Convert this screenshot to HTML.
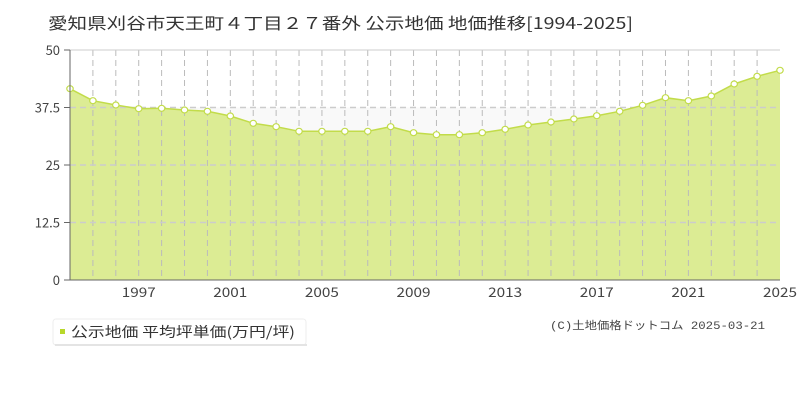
<!DOCTYPE html>
<html><head><meta charset="utf-8"><style>
body{margin:0;width:800px;height:400px;background:#fff;overflow:hidden;font-family:"Liberation Sans","Noto Sans CJK JP",sans-serif}
</style></head><body>
<svg width="800" height="400" xmlns="http://www.w3.org/2000/svg" font-family="Liberation Sans, Noto Sans CJK JP, sans-serif">
<text x="48" y="29" font-size="16" fill="#333" font-family="Noto Sans CJK JP, sans-serif" textLength="585" lengthAdjust="spacingAndGlyphs">愛知県刈谷市天王町４丁目２７番外 公示地価 地価推移[1994-2025]</text>
<rect x="70" y="107.5" width="710" height="57.5" fill="#f9f9f9"/>
<rect x="70" y="222.5" width="710" height="57.5" fill="#f9f9f9"/>
<g id="area"></g>
<script>
const ys=[88.7,100.7,105,108.7,108.3,110,111.3,116,123.3,126.7,131.3,131.3,131.3,131.3,126.7,132.7,134.7,134.7,132.7,129.3,125,122,119,115.7,111.3,105.3,97.7,100.7,96,84,76.3,70.3];
const s=document.currentScript.parentNode;const ns="http://www.w3.org/2000/svg";
function el(t,a,p){const e=document.createElementNS(ns,t);for(const k in a)e.setAttribute(k,a[k]);(p||s).appendChild(e);return e;}
const g=s.querySelector('#area');
let pts=ys.map((y,i)=>[70+i*710/31,y]);
el('polygon',{points:'70,280 '+pts.map(p=>p.join(',')).join(' ')+' 780,280',fill:'#dcec94'},g);
for(let i=1;i<31;i++){const x=70+i*710/31;el('line',{x1:x,y1:50,x2:x,y2:280,stroke:'#bbb','stroke-dasharray':'6,4','stroke-width':1},g);}
[107.5,165,222.5].forEach(y=>el('line',{x1:70,y1:y,x2:780,y2:y,stroke:'#ccc','stroke-dasharray':'6,4','stroke-width':1.5},g));
el('line',{x1:70,y1:50,x2:780,y2:50,stroke:'#ccc'},g);
el('polyline',{points:pts.map(p=>p.join(',')).join(' '),fill:'none',stroke:'#c2dc4a','stroke-width':1.5},g);
pts.forEach(p=>el('ellipse',{cx:p[0],cy:p[1],rx:3.2,ry:3,fill:'#fff',stroke:'#c2dc4a','stroke-width':1.2},g));
el('line',{x1:70,y1:50,x2:70,y2:280,stroke:'#666'},g);
el('line',{x1:70,y1:280,x2:780,y2:280,stroke:'#666'},g);
[[0,280],[12.5,222.5],[25,165],[37.5,107.5],[50,50]].forEach(([v,y])=>{el('line',{x1:64,y1:y,x2:70,y2:y,stroke:'#666'},g);const t=el('text',{x:60,y:y+5,'font-size':13,fill:'#444','text-anchor':'end','font-family':'Noto Sans CJK JP, sans-serif'},g);t.textContent=v;});
for(let yr=1997;yr<=2025;yr+=4){const x=70+(yr-1994)*710/31;const t=el('text',{x:x-17,y:297,'font-size':13,fill:'#444','font-family':'Noto Sans CJK JP, sans-serif',textLength:34,lengthAdjust:'spacingAndGlyphs'},g);t.textContent=yr;}
</script>
<rect x="53" y="319" width="253" height="26" rx="3" fill="#fff" stroke="#eee"/>
<rect x="55" y="344" width="252" height="2" fill="#e4e4e4"/>
<rect x="60" y="329" width="5" height="5" fill="#b8d82a"/>
<text x="71" y="337" font-size="14" fill="#333" font-family="Noto Sans CJK JP, sans-serif" textLength="224" lengthAdjust="spacingAndGlyphs">公示地価 平均坪単価(万円/坪)</text>
<text x="550" y="329" font-size="11" fill="#444" font-family="Liberation Mono, Noto Sans CJK JP, monospace" textLength="215" lengthAdjust="spacingAndGlyphs">(C)土地価格ドットコム 2025-03-21</text>
</svg>
</body></html>
